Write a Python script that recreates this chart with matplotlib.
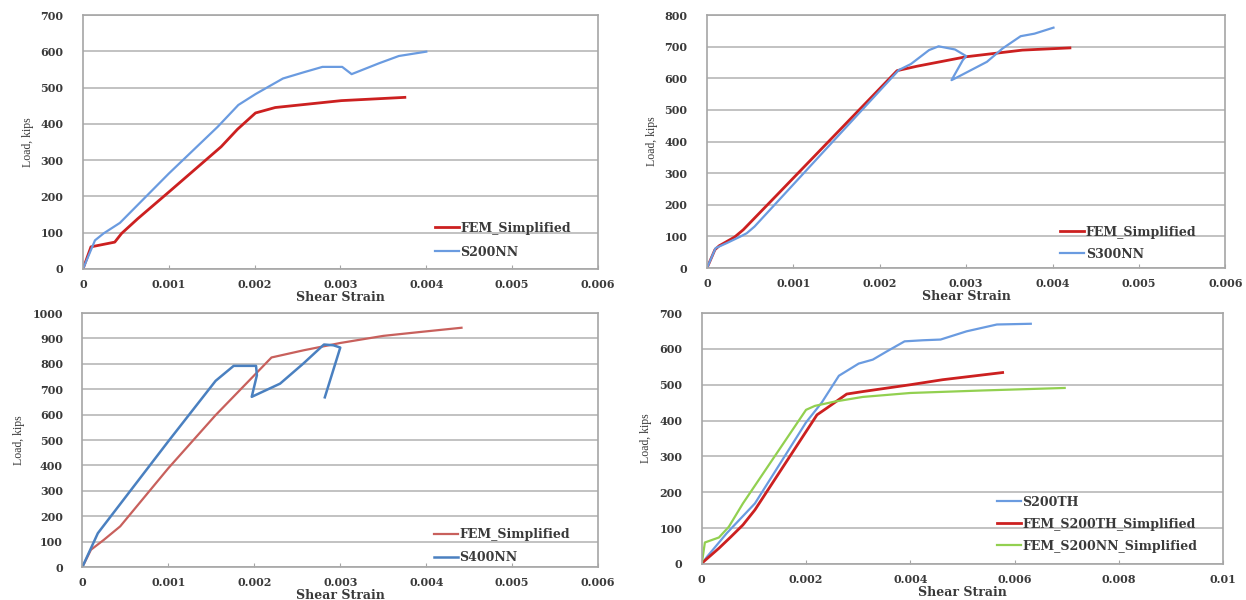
import matplotlib

matplotlib.use('Agg')
import matplotlib.pyplot as plt

# Panel 1: S200NN
p1_fem_x = [0, 0.000093, 0.00037, 0.00045, 0.00064, 0.001, 0.00161, 0.0018, 0.00201, 0.00224, 0.00301, 0.00375]
p1_fem_y = [0, 61, 74, 98, 139, 212, 337, 385, 430, 445, 464, 473]
p1_exp_x = [0, 0.00014, 0.00024, 0.00043, 0.001, 0.00157, 0.00181, 0.00201, 0.00233, 0.00257, 0.00279, 0.00302,
            0.00313, 0.00345, 0.00368, 0.004]
p1_exp_y = [0, 79, 98, 127, 263, 392, 452, 482, 525, 542, 557, 557, 537, 567, 587, 599]

# Panel 2: S300NN
p2_fem_x = [0, 0.000092, 0.00014, 0.00032, 0.00042, 0.00081, 0.0022, 0.00243, 0.003, 0.00365, 0.0042]
p2_fem_y = [0, 58, 70, 98, 121, 231, 624, 638, 668, 689, 696]
p2_exp_x = [0, 0.0001, 0.00023, 0.00039, 0.00046, 0.00055, 0.00222, 0.00236, 0.00257, 0.00268, 0.00287, 0.003,
            0.00296, 0.00283, 0.00291, 0.00324, 0.00342, 0.00363, 0.00379, 0.00401]
p2_exp_y = [0, 63, 79, 100, 110, 131, 626, 645, 689, 701, 691, 670, 657, 594, 605, 652, 694, 733, 741, 760]

# Panel 3: S400NN
p3_fem_x = [0, 0.0001, 0.00025, 0.00044, 0.001, 0.00155, 0.00202, 0.0022, 0.00257, 0.003, 0.0035, 0.00392, 0.00441]
p3_fem_y = [0, 68, 107, 160, 389, 598, 762, 825, 853, 882, 910, 925, 942]
p3_exp_x = [0, 0.00018, 0.001, 0.00155, 0.00176, 0.00202, 0.00203, 0.00197, 0.0023, 0.00257, 0.00281, 0.00292,
            0.003, 0.00282]
p3_exp_y = [0, 133, 495, 733, 792, 792, 755, 670, 722, 801, 876, 873, 864, 668]

# Panel 4: S200TH
p4_exp_x = [0, 0.0001, 0.00048, 0.00102, 0.002, 0.0023, 0.00263, 0.00301, 0.00328, 0.00355, 0.00389, 0.00424,
            0.00458, 0.00508, 0.00566, 0.00631]
p4_exp_y = [0, 20, 86, 169, 395, 450, 525, 559, 570, 593, 621, 624, 626, 649, 668, 670]
p4_th_x = [0, 0.00033, 0.00056, 0.00079, 0.00102, 0.00221, 0.0024, 0.00278, 0.00309, 0.004, 0.00462, 0.00577]
p4_th_y = [2, 44, 76, 109, 151, 416, 435, 474, 481, 500, 514, 534]
p4_nn_x = [0, 0.00006, 0.00033, 0.00052, 0.00079, 0.002, 0.00217, 0.00255, 0.00309, 0.004, 0.00539, 0.00696]
p4_nn_y = [0, 60, 74, 104, 169, 430, 441, 453, 466, 477, 484, 491]

RED = '#cc2020'
BLUE = '#6a9be0'
GREEN = '#92d050'
TXT = '#3a3a3a'

plt.rcParams['font.family'] = ['DejaVu Serif']


# Excel style axes
def style_axes(ax, xmax, xstep, ymax, ystep, xfmt):
    ax.set_xlim(0, xmax)
    ax.set_ylim(0, ymax)
    n = int(round(xmax / xstep))
    xt = [i * xstep for i in range(n + 1)]
    ax.set_xticks(xt)
    ax.set_xticklabels([xfmt(v) for v in xt])
    ax.set_yticks(range(0, ymax + 1, ystep))
    ax.grid(axis='y', color='#bdbdbd', linewidth=1.3)
    ax.set_axisbelow(True)
    for s in ax.spines.values():
        s.set_color('#a6a6a6')
        s.set_linewidth(1.2)
    ax.tick_params(axis='x', direction='in', length=3, color='#a6a6a6', pad=7)
    ax.tick_params(axis='y', length=0, pad=14)
    for lab in ax.get_xticklabels() + ax.get_yticklabels():
        lab.set_fontsize(8)
        lab.set_fontweight('bold')
        lab.set_color(TXT)
    ax.set_xlabel('Shear Strain', fontsize=9, fontweight='bold', color=TXT, labelpad=1)
    ax.set_ylabel('Load, kips', fontsize=8.5, color=TXT, labelpad=5, family='Liberation Serif')


def fmt3(v):
    return '0' if v == 0 else f'{v:.3f}'


def fmt4(v):
    if v == 0:
        return '0'
    return f'{v:.3f}' if v < 0.0099 else '0.01'


def legend(ax, anchor, spacing):
    leg = ax.legend(loc='upper left', bbox_to_anchor=anchor, frameon=False, handlelength=1.75,
                    handletextpad=0.1, labelspacing=spacing, borderaxespad=0, borderpad=0)
    for t in leg.get_texts():
        t.set_fontsize(9)
        t.set_fontweight('bold')
        t.set_color(TXT)


fig = plt.figure(figsize=(12.46, 6), dpi=100)

ax1 = fig.add_axes([0.0666, 0.5517, 0.4133, 0.4233])
ax1.plot(p1_fem_x, p1_fem_y, color=RED, lw=2.0, label='FEM_Simplified')
ax1.plot(p1_exp_x, p1_exp_y, color=BLUE, lw=1.6, label='S200NN')
style_axes(ax1, 0.006, 0.001, 700, 100, fmt3)
legend(ax1, (0.683, 0.185), 0.8)

ax2 = fig.add_axes([0.5674, 0.5533, 0.4161, 0.4217])
ax2.plot(p2_fem_x, p2_fem_y, color=RED, lw=2.0, label='FEM_Simplified')
ax2.plot(p2_exp_x, p2_exp_y, color=BLUE, lw=1.6, label='S300NN')
style_axes(ax2, 0.006, 0.001, 800, 100, fmt3)
legend(ax2, (0.681, 0.166), 0.65)

ax3 = fig.add_axes([0.0661, 0.055, 0.414, 0.4233])
ax3.plot(p3_fem_x, p3_fem_y, color='#c8605c', lw=1.6, label='FEM_Simplified')
ax3.plot(p3_exp_x, p3_exp_y, color='#4a80c0', lw=1.8, label='S400NN')
style_axes(ax3, 0.006, 0.001, 1000, 100, fmt3)
legend(ax3, (0.681, 0.152), 0.72)

ax4 = fig.add_axes([0.5632, 0.06, 0.4185, 0.4183])
ax4.plot(p4_exp_x, p4_exp_y, color=BLUE, lw=1.6, label='S200TH')
ax4.plot(p4_th_x, p4_th_y, color=RED, lw=2.0, label='FEM_S200TH_Simplified')
ax4.plot(p4_nn_x, p4_nn_y, color=GREEN, lw=1.6, label='FEM_S200NN_Simplified')
style_axes(ax4, 0.01, 0.002, 700, 100, fmt4)
legend(ax4, (0.566, 0.27), 0.65)

fig.savefig('out.png', dpi=100)
plt.close(fig)
